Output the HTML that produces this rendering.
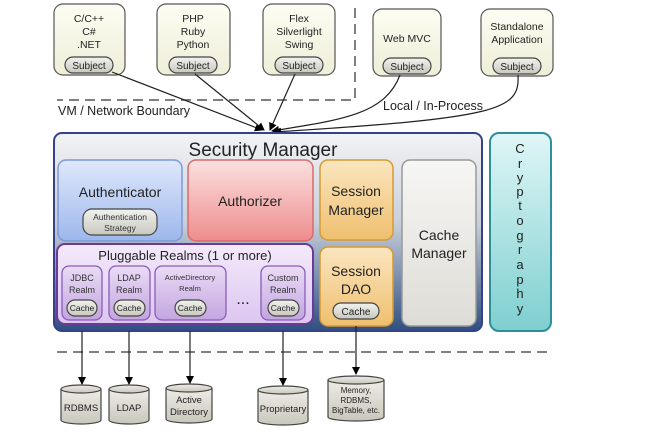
<!DOCTYPE html>
<html><head><meta charset="utf-8"><style>
html,body{margin:0;padding:0;background:#fff;}
svg{display:block;font-family:"Liberation Sans",sans-serif;}
</style></head><body>
<svg width="654" height="438" viewBox="0 0 654 438" xmlns="http://www.w3.org/2000/svg">
<defs>
<linearGradient id="sm" x1="0" y1="0" x2="0" y2="1"><stop offset="0" stop-color="#f3f3f5"/><stop offset="0.45" stop-color="#c9d0da"/><stop offset="1" stop-color="#2f4f80"/></linearGradient>
<linearGradient id="au" x1="0" y1="0" x2="0" y2="1"><stop offset="0" stop-color="#dfe8fb"/><stop offset="1" stop-color="#9db7ec"/></linearGradient>
<linearGradient id="az" x1="0" y1="0" x2="0" y2="1"><stop offset="0" stop-color="#fbe0e0"/><stop offset="1" stop-color="#ee8c8c"/></linearGradient>
<linearGradient id="se" x1="0" y1="0" x2="0" y2="1"><stop offset="0" stop-color="#fbe6c0"/><stop offset="1" stop-color="#efbf6e"/></linearGradient>
<linearGradient id="cm" x1="0" y1="0" x2="0" y2="1"><stop offset="0" stop-color="#f6f6f4"/><stop offset="1" stop-color="#dedcd6"/></linearGradient>
<linearGradient id="pr" x1="0" y1="0" x2="0" y2="1"><stop offset="0" stop-color="#f4eafb"/><stop offset="1" stop-color="#dcc6f0"/></linearGradient>
<linearGradient id="rl" x1="0" y1="0" x2="0" y2="1"><stop offset="0" stop-color="#eadcf6"/><stop offset="1" stop-color="#c3a6e0"/></linearGradient>
<linearGradient id="cr" x1="0" y1="0" x2="0" y2="1"><stop offset="0" stop-color="#e0f6f6"/><stop offset="1" stop-color="#7ecfd0"/></linearGradient>
<linearGradient id="tp" x1="0" y1="0" x2="0" y2="1"><stop offset="0" stop-color="#fdfdf3"/><stop offset="1" stop-color="#eeeed8"/></linearGradient>
<linearGradient id="pl" x1="0" y1="0" x2="0" y2="1"><stop offset="0" stop-color="#f2f2ee"/><stop offset="1" stop-color="#c8c8c0"/></linearGradient>
<linearGradient id="cy" x1="0" y1="0" x2="0" y2="1"><stop offset="0" stop-color="#eeece6"/><stop offset="1" stop-color="#c9c6bc"/></linearGradient>
<marker id="ar" markerWidth="8" markerHeight="8" refX="7" refY="4" orient="auto" markerUnits="userSpaceOnUse"><path d="M0,0 L8,4 L0,8 z" fill="#000"/></marker>
</defs>

<!-- top client boxes -->
<g stroke="#555" stroke-width="1.2" fill="url(#tp)">
<rect x="54" y="4" width="71" height="71" rx="9"/>
<rect x="157" y="4" width="73" height="71" rx="9"/>
<rect x="263" y="4" width="72" height="71" rx="9"/>
<rect x="373" y="9" width="68" height="67" rx="9"/>
<rect x="481" y="9" width="72" height="67" rx="9"/>
</g>
<g font-size="10.5" fill="#222" text-anchor="middle">
<text x="89" y="22">C/C++</text><text x="89" y="35">C#</text><text x="89" y="48">.NET</text>
<text x="193" y="22">PHP</text><text x="193" y="35">Ruby</text><text x="193" y="48">Python</text>
<text x="299" y="22">Flex</text><text x="299" y="35">Silverlight</text><text x="299" y="48">Swing</text>
<text x="407" y="42">Web MVC</text>
<text x="517" y="30">Standalone</text><text x="517" y="43">Application</text>
</g>
<g stroke="#444" stroke-width="1.2" fill="url(#pl)">
<rect x="65" y="57" width="48" height="16" rx="8"/>
<rect x="169" y="57" width="48" height="16" rx="8"/>
<rect x="275" y="57" width="48" height="16" rx="8"/>
<rect x="383" y="58" width="48" height="16" rx="8"/>
<rect x="493" y="58" width="48" height="16" rx="8"/>
</g>
<g font-size="10" fill="#222" text-anchor="middle">
<text x="89" y="69">Subject</text><text x="193" y="69">Subject</text><text x="299" y="69">Subject</text><text x="407" y="70">Subject</text><text x="517" y="70">Subject</text>
</g>

<!-- boundary -->
<g stroke="#555" stroke-width="1.5" stroke-dasharray="10,6" fill="none">
<path d="M355,8 L355,100 L57,100"/>
<path d="M57,352 L553,352"/>
</g>
<text x="58" y="115" font-size="12.5" fill="#222">VM / Network Boundary</text>
<text x="383" y="110" font-size="12.5" fill="#222">Local / In-Process</text>

<!-- connectors top -->
<g stroke="#222" stroke-width="1.2" fill="none" marker-end="url(#ar)">
<path d="M112,72 L262,130"/>
<path d="M195,74 L264,130"/>
<path d="M295,74 L270,130"/>
<path d="M400,75 C385,115 340,120 272,131"/>
<path d="M518,75 C520,110 500,118 274,132"/>
</g>

<!-- Security manager -->
<rect x="54" y="133" width="428" height="198" rx="8" fill="url(#sm)" stroke="#36418c" stroke-width="2"/>
<text x="263" y="156" font-size="19" fill="#222" text-anchor="middle">Security Manager</text>

<rect x="58" y="160" width="124" height="81" rx="8" fill="url(#au)" stroke="#7c9ad8" stroke-width="1.5"/>
<text x="120" y="197" font-size="14" fill="#222" text-anchor="middle">Authenticator</text>
<rect x="83" y="209" width="74" height="26" rx="9" fill="url(#pl)" stroke="#444" stroke-width="1.2"/>
<text x="120" y="220" font-size="8.5" fill="#333" text-anchor="middle">Authentication</text>
<text x="120" y="231" font-size="8.5" fill="#333" text-anchor="middle">Strategy</text>

<rect x="188" y="160" width="125" height="81" rx="8" fill="url(#az)" stroke="#d86a6a" stroke-width="1.5"/>
<text x="250" y="206" font-size="14" fill="#222" text-anchor="middle">Authorizer</text>

<rect x="320" y="160" width="73" height="80" rx="8" fill="url(#se)" stroke="#d59a32" stroke-width="1.5"/>
<text x="356" y="196" font-size="14" fill="#222" text-anchor="middle">Session</text>
<text x="356" y="215" font-size="14" fill="#222" text-anchor="middle">Manager</text>

<rect x="320" y="247" width="73" height="79" rx="8" fill="url(#se)" stroke="#d59a32" stroke-width="1.5"/>
<text x="356" y="276" font-size="14" fill="#222" text-anchor="middle">Session</text>
<text x="356" y="294" font-size="14" fill="#222" text-anchor="middle">DAO</text>
<rect x="333" y="303" width="46" height="16" rx="8" fill="url(#pl)" stroke="#444" stroke-width="1.2"/>
<text x="356" y="315" font-size="10" fill="#222" text-anchor="middle">Cache</text>

<rect x="402" y="160" width="74" height="166" rx="8" fill="url(#cm)" stroke="#999" stroke-width="1.5"/>
<text x="439" y="240" font-size="14" fill="#222" text-anchor="middle">Cache</text>
<text x="439" y="258" font-size="14" fill="#222" text-anchor="middle">Manager</text>

<rect x="57" y="244" width="256" height="80" rx="8" fill="url(#pr)" stroke="#6a3a99" stroke-width="2"/>
<text x="185" y="260" font-size="13" fill="#222" text-anchor="middle">Pluggable Realms (1 or more)</text>
<g stroke="#8a5cb8" stroke-width="1.3" fill="url(#rl)">
<rect x="62" y="266" width="40" height="54" rx="7"/>
<rect x="109" y="266" width="41" height="54" rx="7"/>
<rect x="155" y="266" width="71" height="54" rx="7"/>
<rect x="261" y="266" width="44" height="54" rx="7"/>
</g>
<g font-size="9" fill="#333" text-anchor="middle">
<text x="82" y="281">JDBC</text><text x="82" y="293">Realm</text>
<text x="129" y="281">LDAP</text><text x="129" y="293">Realm</text>
<text x="190" y="280" font-size="7.5">ActiveDirectory</text><text x="190" y="291" font-size="7.5">Realm</text>
<text x="283" y="281">Custom</text><text x="283" y="293">Realm</text>
</g>
<text x="243" y="304" font-size="16" fill="#222" text-anchor="middle">...</text>
<g stroke="#444" stroke-width="1.2" fill="url(#pl)">
<rect x="67" y="300" width="30" height="16" rx="8"/>
<rect x="114" y="300" width="31" height="16" rx="8"/>
<rect x="175" y="300" width="31" height="16" rx="8"/>
<rect x="268" y="300" width="31" height="16" rx="8"/>
</g>
<g font-size="8.5" fill="#222" text-anchor="middle">
<text x="82" y="311">Cache</text><text x="129" y="311">Cache</text><text x="190" y="311">Cache</text><text x="283" y="311">Cache</text>
</g>

<!-- cryptography -->
<rect x="490" y="133" width="61" height="198" rx="9" fill="url(#cr)" stroke="#2f8f98" stroke-width="2"/>
<g font-size="13" fill="#222" text-anchor="middle">
<text x="520" y="153">C</text><text x="520" y="168">r</text><text x="520" y="182">y</text><text x="520" y="196">p</text><text x="520" y="210">t</text><text x="520" y="225">o</text><text x="520" y="240">g</text><text x="520" y="254">r</text><text x="520" y="269">a</text><text x="520" y="284">p</text><text x="520" y="298">h</text><text x="520" y="313">y</text>
</g>

<!-- bottom arrows -->
<g stroke="#222" stroke-width="1.2" marker-end="url(#ar)">
<line x1="82" y1="331" x2="82" y2="384"/>
<line x1="129" y1="331" x2="129" y2="384"/>
<line x1="190" y1="331" x2="190" y2="383"/>
<line x1="283" y1="331" x2="283" y2="385"/>
<line x1="356" y1="326" x2="356" y2="374"/>
</g>

<!-- cylinders -->
<g stroke="#444" stroke-width="1.2" fill="url(#cy)">
<path d="M61,389 L61,420 A20,4 0 0 0 101,420 L101,389"/><ellipse cx="81" cy="389" rx="20" ry="4"/>
<path d="M109,389 L109,420 A20,4 0 0 0 149,420 L149,389"/><ellipse cx="129" cy="389" rx="20" ry="4"/>
<path d="M166,388 L166,419 A23,4 0 0 0 212,419 L212,388"/><ellipse cx="189" cy="388" rx="23" ry="4"/>
<path d="M258,390 L258,421 A25,4 0 0 0 308,421 L308,390"/><ellipse cx="283" cy="390" rx="25" ry="4"/>
<path d="M328,380 L328,417 A28,4 0 0 0 384,417 L384,380"/><ellipse cx="356" cy="380" rx="28" ry="4"/>
</g>
<g font-size="9.5" fill="#222" text-anchor="middle">
<text x="81" y="411">RDBMS</text>
<text x="129" y="411">LDAP</text>
<text x="189" y="403">Active</text><text x="189" y="415">Directory</text>
<text x="283" y="412">Proprietary</text>
</g>
<g font-size="8" fill="#222" text-anchor="middle">
<text x="356" y="393">Memory,</text><text x="356" y="403">RDBMS,</text><text x="356" y="413">BigTable, etc.</text>
</g>
</svg>
</body></html>
